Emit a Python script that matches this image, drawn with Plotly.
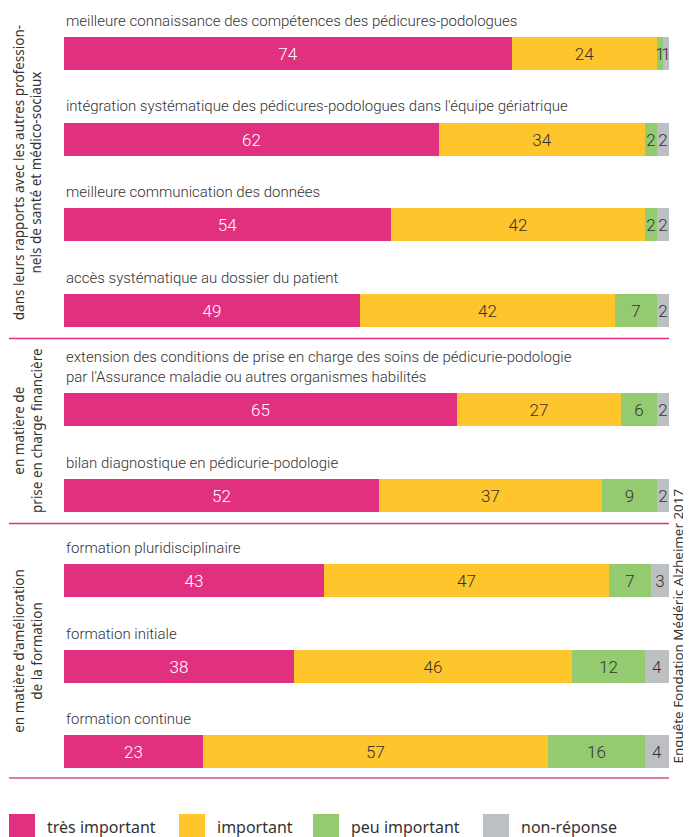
import plotly.graph_objects as go

# ---------------- data ----------------
group_labels = [
    "dans leurs rapports avec les autres profession-<br>nels de santé et médico-sociaux",
    "en matière de<br>prise en charge financière",
    "en matière d'amélioration<br>de la formation",
]
item_group = [0, 0, 0, 0, 1, 1, 2, 2, 2]
item_labels = [
    "meilleure connaissance des compétences des pédicures-podologues",
    "intégration systématique des pédicures-podologues dans l'équipe gériatrique",
    "meilleure communication des données",
    "accès systématique au dossier du patient",
    "extension des conditions de prise en charge des soins de pédicurie-podologie<br>par l'Assurance maladie ou autres organismes habilités",
    "bilan diagnostique en pédicurie-podologie",
    "formation pluridisciplinaire",
    "formation initiale",
    "formation continue",
]
series_names = ["très important", "important", "peu important", "non-réponse"]
tres_important = [74, 62, 54, 49, 65, 52, 43, 38, 23]
important = [24, 34, 42, 42, 27, 37, 47, 46, 57]
peu_important = [1, 2, 2, 7, 6, 9, 7, 12, 16]
non_reponse = [1, 2, 2, 2, 2, 2, 3, 4, 4]
source_text = "Enquête Fondation Médéric Alzheimer 2017"

# ---------------- style / layout ----------------
series_values = [tres_important, important, peu_important, non_reponse]
series_colors = ["#E0307F", "#FEC52C", "#94CB70", "#BDC0C3"]
series_text_colors = ["#FFFFFF", "#333333", "#333333", "#333333"]

PAGE_W, PAGE_H = 691, 837
BODY = 8                   # default page margin around the figure
W, H = PAGE_W - BODY, PAGE_H - BODY
PL, PR = 64, 669           # bar extent in page pixels
BAR_H = 33
ROW_PITCH = 85.5
FIRST_CENTER = 53.5
TWO_LINE_EXTRA = 14

def px2x(px):
    return (px - PL) / (PR - PL) * 100.0

# row centres (page pixel == data units on y)
centers = []
extra = 0
for i, lab in enumerate(item_labels):
    if "<br>" in lab:
        extra += TWO_LINE_EXTRA
    centers.append(FIRST_CENTER + ROW_PITCH * i + extra)

fig = go.Figure()
for name, vals, col, tcol in zip(series_names, series_values, series_colors, series_text_colors):
    fig.add_trace(go.Bar(
        y=centers, x=vals, orientation="h", name=name,
        width=BAR_H, marker=dict(color=col, line=dict(width=0)),
        text=[str(v) for v in vals], textposition="inside",
        insidetextanchor="middle", textangle=0, constraintext="none",
        textfont=dict(family="Roboto", size=17, color=tcol, weight=300),
        cliponaxis=False, showlegend=False, hoverinfo="skip",
    ))

annotations = []
shapes = []
LABEL_FONT = dict(family="Roboto", size=15, color="#333333", weight=300)

for c, lab in zip(centers, item_labels):
    annotations.append(dict(
        x=0, y=c - BAR_H / 2 - 5, xref="x", yref="y", text=lab,
        showarrow=False, xanchor="left", yanchor="bottom", align="left",
        font=LABEL_FONT,
    ))

# group separators and rotated group labels
prev = 0
for g, glab in enumerate(group_labels):
    idx = [i for i, gg in enumerate(item_group) if gg == g]
    last_c = centers[idx[-1]]
    is_last = g == len(group_labels) - 1
    sep = last_c + (26.5 if is_last else 28.5)
    shapes.append(dict(
        type="line", xref="x", yref="y", x0=px2x(9), x1=100, y0=sep, y1=sep,
        line=dict(color="#DC7BB0" if is_last else "#E0307F", width=2 if is_last else 1.3),
    ))
    top = prev if g > 0 else 8
    annotations.append(dict(
        x=px2x(28), y=(top + sep) / 2, xref="x", yref="y", text=glab,
        showarrow=False, textangle=-90, xanchor="center", yanchor="middle",
        align="center", font=dict(family="Noto Sans", size=13.5, color="#333333"),
    ))
    prev = sep

# source on the right
annotations.append(dict(
    x=px2x(677.5), y=626, xref="x", yref="y", text=source_text, showarrow=False,
    textangle=-90, xanchor="center", yanchor="middle",
    font=dict(family="Noto Sans", size=13.4, color="#333333"),
))

# custom legend
legend_x = [9, 179, 313, 483]
for lx, name, col in zip(legend_x, series_names, series_colors):
    shapes.append(dict(
        type="rect", xref="x", yref="y", x0=px2x(lx), x1=px2x(lx + 26),
        y0=814, y1=845, fillcolor=col, line=dict(width=0),
    ))
    annotations.append(dict(
        x=px2x(lx + 36), y=827, xref="x", yref="y", text=name, showarrow=False,
        xanchor="left", yanchor="middle",
        font=dict(family="Noto Sans", size=16, color="#333333"),
    ))

fig.update_layout(
    width=W, height=H, barmode="stack",
    margin=dict(l=0, r=0, t=0, b=0, pad=0),
    paper_bgcolor="white", plot_bgcolor="white",
    xaxis=dict(range=[px2x(BODY), px2x(PAGE_W)], visible=False, fixedrange=True),
    yaxis=dict(range=[PAGE_H, BODY], visible=False, fixedrange=True),
    bargap=0, annotations=annotations, shapes=shapes,
)

fig.write_html("out.html")
